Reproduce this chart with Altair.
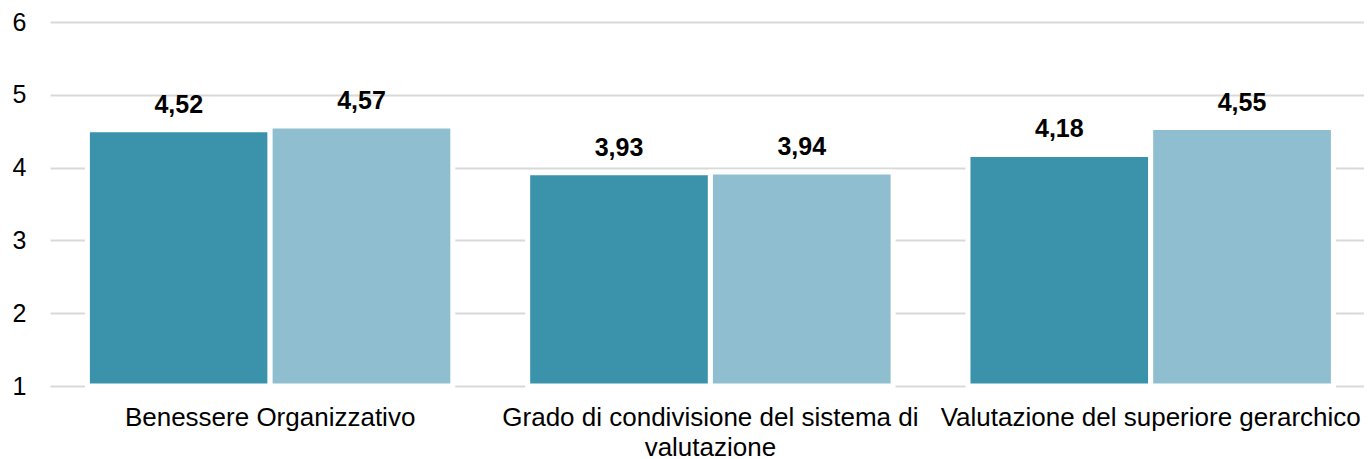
import altair as alt
import pandas as pd

categories = ["Benessere Organizzativo",
              "Grado di condivisione del sistema di valutazione",
              "Valutazione del superiore gerarchico"]
series = ["Serie 1", "Serie 2"]
values_s1 = [4.52, 3.93, 4.18]
values_s2 = [4.57, 3.94, 4.55]
y_ticks = [1, 2, 3, 4, 5, 6]

rows = []
for c, a, b in zip(categories, values_s1, values_s2):
    rows.append({"cat": c, "serie": series[0], "v": a})
    rows.append({"cat": c, "serie": series[1], "v": b})
df = pd.DataFrame(rows)
df["label"] = df["v"].map(lambda v: f"{v:.2f}".replace(".", ","))

FONT = "Liberation Sans"
FS = 25

x_enc = alt.X("cat:N", sort=categories, title=None,
              scale=alt.Scale(paddingInner=0.17, paddingOuter=0.0772, align=0.55),
              axis=alt.Axis(labelAngle=0, labelFont=FONT, labelFontSize=26,
                            labelColor="#000000", labelPadding=18,
                            labelLineHeight=30, labelLimit=600,
                            domain=False, ticks=False, grid=False,
                            labelExpr="datum.label == 'Grado di condivisione del sistema di valutazione' ? ['Grado di condivisione del sistema di', 'valutazione'] : datum.label"))
xo_enc = alt.XOffset("serie:N", sort=series,
                     scale=alt.Scale(paddingInner=0, paddingOuter=0))
y_scale = alt.Scale(domain=[1, 6], nice=False, zero=False)

color_enc = alt.Color("serie:N", sort=series, legend=None,
                      scale=alt.Scale(domain=series, range=["#3a93ab", "#8fbed0"]))

bars = alt.Chart(df).mark_bar(stroke="#ffffff", strokeWidth=5).encode(
    x=x_enc, xOffset=xo_enc,
    y=alt.Y("v:Q", scale=y_scale, title=None,
            axis=alt.Axis(values=y_ticks, format="d", labelFont=FONT,
                          labelFontSize=FS, labelColor="#000000",
                          labelPadding=24, domain=False, ticks=False,
                          grid=True, gridColor="#d9d9d9", gridWidth=2)),
    y2=alt.datum(1),
    color=color_enc,
)

text = alt.Chart(df).mark_text(font=FONT, fontSize=FS, fontWeight="bold",
                               color="#000000", baseline="alphabetic",
                               dy=-17).encode(
    x=alt.X("cat:N", sort=categories), xOffset=alt.XOffset("serie:N", sort=series),
    y=alt.Y("v:Q", scale=y_scale),
    text="label:N",
)

chart = (bars + text).properties(
    width=1314, height=364,
    autosize=alt.AutoSizeParams(type="none"),
    padding={"left": 42, "top": 14, "right": 0, "bottom": 72},
).configure_view(stroke=None)

chart.save("out.html", embed_options={"renderer": "svg", "actions": False})
